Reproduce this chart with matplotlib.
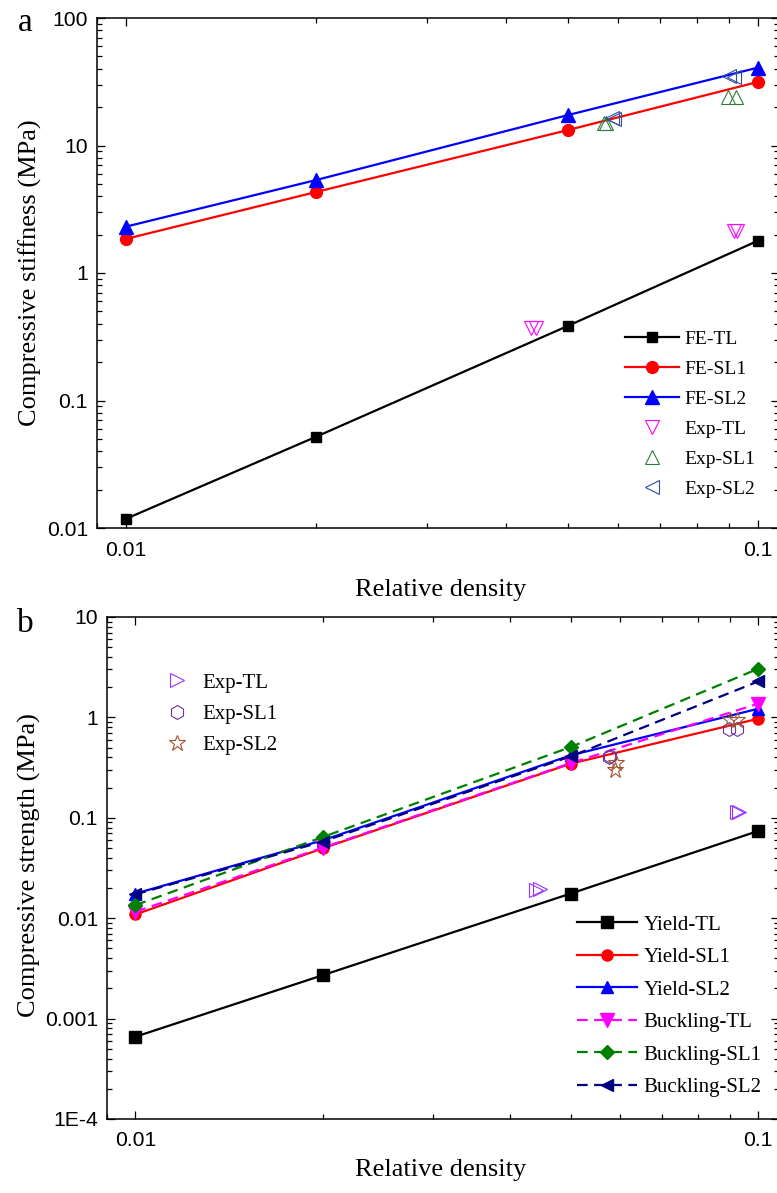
import numpy as np
import matplotlib
matplotlib.use('Agg')
import matplotlib.pyplot as plt
from matplotlib.ticker import FixedLocator, FixedFormatter, LogLocator, NullFormatter

## data: relative density and the simulated / measured values

rho = [0.01, 0.02, 0.05, 0.1]

# (a) compressive stiffness, MPa
fe_tl = [0.0118, 0.052, 0.384, 1.79]
fe_sl1 = [1.85, 4.32, 13.2, 31.5]
fe_sl2 = [2.31, 5.36, 17.3, 40.8]

exp_tl_rho = [0.0437, 0.0445, 0.0918, 0.0928]
exp_tl_stiff = [0.37, 0.37, 2.14, 2.12]
exp_sl1_rho = [0.0571, 0.0576, 0.0897, 0.0925]
exp_sl1_stiff = [15.1, 15.1, 23.8, 23.8]
exp_sl2_rho = [0.0587, 0.0592, 0.0899, 0.0916]
exp_sl2_stiff = [16.3, 16.0, 35.1, 34.4]

# (b) compressive strength, MPa
yield_tl = [6.6e-4, 2.71e-3, 0.0176, 0.0739]
yield_sl1 = [0.0109, 0.0497, 0.346, 0.97]
yield_sl2 = [0.0176, 0.0597, 0.419, 1.22]
buck_tl = [0.0116, 0.0505, 0.351, 1.37]
buck_sl1 = [0.0135, 0.0644, 0.507, 3.05]
buck_sl2 = [0.0173, 0.058, 0.409, 2.28]

exp_tl_rho_b = [0.0440, 0.0447, 0.0925, 0.0930]
exp_tl_strength = [0.0193, 0.0195, 0.114, 0.115]
exp_sl1_rho_b = [0.0575, 0.0578, 0.0897, 0.0923]
exp_sl1_strength = [0.403, 0.41, 0.772, 0.772]
exp_sl2_rho_b = [0.0591, 0.0589, 0.0901, 0.0923]
exp_sl2_strength = [0.348, 0.297, 0.934, 0.934]

x_ticks = [0.01, 0.1]
x_ticklabels = ['0.01', '0.1']
ya_ticks = [0.01, 0.1, 1, 10, 100]
ya_ticklabels = ['0.01', '0.1', '1', '10', '100']
yb_ticks = [1e-4, 1e-3, 0.01, 0.1, 1, 10]
yb_ticklabels = ['1E-4', '0.001', '0.01', '0.1', '1', '10']

W, H = 777, 1193
SERIF = 'Liberation Serif'
SANS = 'Liberation Sans'

fig = plt.figure(figsize=(W / 100, H / 100), dpi=100)


def px_axes(left, top, right, bottom):
    return fig.add_axes([left / W, 1 - bottom / H, (right - left) / W, (bottom - top) / H])


def style_axes(ax, yticks, yticklabels, ylim):
    ax.set_xscale('log')
    ax.set_yscale('log')
    ax.set_xlim(0.009, 0.108)
    ax.set_ylim(*ylim)
    ax.xaxis.set_major_locator(FixedLocator(x_ticks))
    ax.xaxis.set_major_formatter(FixedFormatter(x_ticklabels))
    ax.xaxis.set_minor_locator(LogLocator(base=10, subs=np.arange(2, 10)))
    ax.xaxis.set_minor_formatter(NullFormatter())
    ax.yaxis.set_major_locator(FixedLocator(yticks))
    ax.yaxis.set_major_formatter(FixedFormatter(yticklabels))
    ax.yaxis.set_minor_locator(LogLocator(base=10, subs=np.arange(2, 10)))
    ax.yaxis.set_minor_formatter(NullFormatter())
    ax.tick_params(which='both', direction='in', top=True, right=True, width=0.9)
    ax.tick_params(which='major', length=6)
    ax.tick_params(which='minor', length=3.6)
    ax.tick_params(axis='y', which='major', pad=6.5)
    ax.tick_params(axis='x', which='major', pad=9)
    for lab in ax.get_xticklabels() + ax.get_yticklabels():
        lab.set_fontfamily(SANS)
        lab.set_fontsize(15.2)
    for sp in ax.spines.values():
        sp.set_linewidth(1.1)


## (a) stiffness
ax1 = px_axes(97, 18, 779, 528)
style_axes(ax1, ya_ticks, ya_ticklabels, (0.01, 100))

ax1.plot(rho, fe_tl, '-s', color='black', lw=1.6, ms=7.5, label='FE-TL')
ax1.plot(rho, fe_sl1, '-o', color='#ff0000', lw=1.6, ms=8.5, label='FE-SL1')
ax1.plot(rho, fe_sl2, '-^', color='#0000ff', lw=1.6, ms=9.5, label='FE-SL2')
ax1.plot(exp_tl_rho, exp_tl_stiff, 'v', ls='none', mfc='none', mec='#ff00ff', mew=0.8, ms=10, label='Exp-TL')
ax1.plot(exp_sl1_rho, exp_sl1_stiff, '^', ls='none', mfc='none', mec='#2e7d3e', mew=0.8, ms=10, label='Exp-SL1')
ax1.plot(exp_sl2_rho, exp_sl2_stiff, '<', ls='none', mfc='none', mec='#2f4f9f', mew=0.8, ms=10, label='Exp-SL2')

fig.legend(handles=ax1.get_lines(), loc='upper left', bbox_to_anchor=(625 / W, 1 - 330 / H),
           frameon=False, borderpad=0, borderaxespad=0, handlelength=2.8, handletextpad=0.25,
           labelspacing=0.64, prop={'family': SERIF, 'size': 14})

fig.text(30 / W, 1 - 273 / H, 'Compressive stiffness (MPa)', rotation=90, ha='center', va='center',
         family=SERIF, fontsize=19)
fig.text(441 / W, 1 - 590 / H, 'Relative density', ha='center', va='center', family=SERIF, fontsize=19)
fig.text(25 / W, 1 - 31 / H, 'a', ha='center', va='baseline', family=SERIF, fontsize=24)

## (b) strength
ax2 = px_axes(107, 617, 779, 1119)
style_axes(ax2, yb_ticks, yb_ticklabels, (1e-4, 10))

dash = (0, (4.8, 2.9))
l1 = ax2.plot(rho, yield_tl, '-s', color='black', lw=1.6, ms=8, label='Yield-TL')[0]
l2 = ax2.plot(rho, yield_sl1, '-o', color='#ff0000', lw=1.6, ms=8, label='Yield-SL1')[0]
l3 = ax2.plot(rho, yield_sl2, '-^', color='#0000ff', lw=1.6, ms=9, label='Yield-SL2')[0]
l4 = ax2.plot(rho, buck_tl, marker='v', ls=dash, color='#ff00ff', lw=1.6, ms=10, label='Buckling-TL')[0]
l5 = ax2.plot(rho, buck_sl1, marker='D', ls=dash, color='#008000', lw=1.6, ms=7, label='Buckling-SL1')[0]
l6 = ax2.plot(rho, buck_sl2, marker='<', ls=dash, color='#000080', lw=1.6, ms=9, label='Buckling-SL2')[0]

e1 = ax2.plot(exp_tl_rho_b, exp_tl_strength, '>', ls='none', mfc='none', mec='#9b30ff', mew=0.8, ms=10, label='Exp-TL')[0]
e2 = ax2.plot(exp_sl1_rho_b, exp_sl1_strength, 'h', ls='none', mfc='none', mec='#7030a0', mew=0.8, ms=10, label='Exp-SL1')[0]
e3 = ax2.plot(exp_sl2_rho_b, exp_sl2_strength, '*', ls='none', mfc='none', mec='#a0522d', mew=0.8, ms=12, label='Exp-SL2')[0]

fig.legend(handles=[e1, e2, e3], loc='upper left', bbox_to_anchor=(164 / W, 1 - 673 / H),
           frameon=False, borderpad=0, borderaxespad=0, handlelength=1.2, handletextpad=0.65,
           labelspacing=0.56, prop={'family': SERIF, 'size': 15})
fig.legend(handles=[l1, l2, l3, l4, l5, l6], loc='upper left', bbox_to_anchor=(577 / W, 1 - 915 / H),
           frameon=False, borderpad=0, borderaxespad=0, handlelength=2.9, handletextpad=0.3,
           labelspacing=0.62, prop={'family': SERIF, 'size': 15})

fig.text(29 / W, 1 - 865 / H, 'Compressive strength (MPa)', rotation=90, ha='center', va='center',
         family=SERIF, fontsize=19)
fig.text(441 / W, 1 - 1170 / H, 'Relative density', ha='center', va='center', family=SERIF, fontsize=19)
fig.text(25 / W, 1 - 632 / H, 'b', ha='center', va='baseline', family=SERIF, fontsize=24)

fig.savefig('out.png', dpi=100)
